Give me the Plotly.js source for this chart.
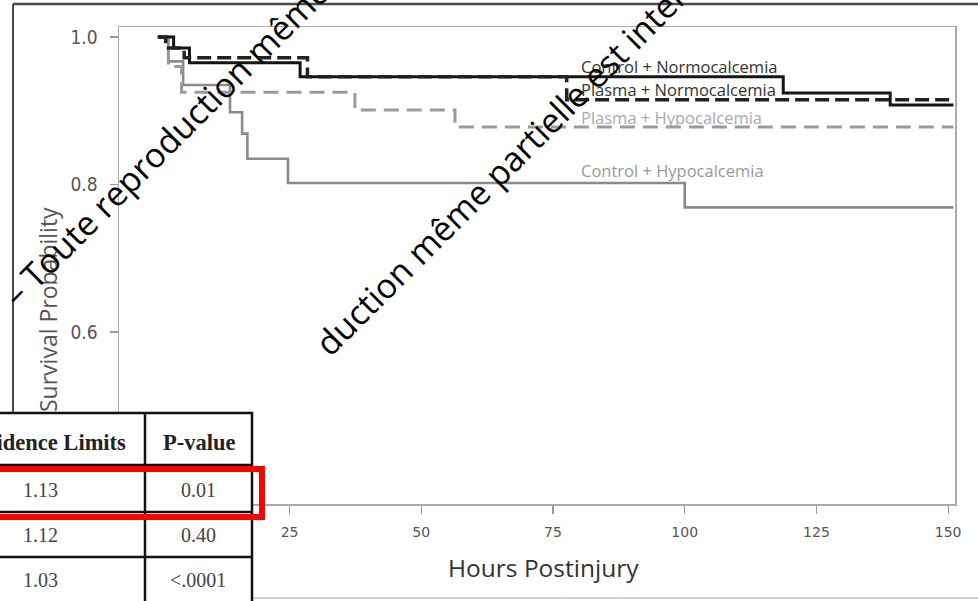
<!DOCTYPE html>
<html>
<head>
<meta charset="utf-8">
<script src="https://cdn.plot.ly/plotly-3.0.1.min.js"></script>
<style>html,body{margin:0;padding:0;background:#fff;overflow:hidden}</style>
</head>
<body>
<div id="chart" style="width:978px;height:601px"></div>
<script>
// ---- Data ----
const seriesNames = ["Control + Normocalcemia", "Plasma + Normocalcemia", "Plasma + Hypocalcemia", "Control + Hypocalcemia"];

const hoursCtrlNormo = [0, 3, 6, 27, 118.7, 139, 151];
const survCtrlNormo  = [1.0, 0.985, 0.965, 0.946, 0.924, 0.908, 0.908];

const hoursPlasmaNormo = [0, 1.5, 5, 28.4, 77.6, 151];
const survPlasmaNormo  = [1.0, 0.985, 0.972, 0.946, 0.915, 0.915];

const hoursPlasmaHypo = [0, 2, 4.5, 37.4, 56.4, 151];
const survPlasmaHypo  = [1.0, 0.96, 0.925, 0.901, 0.878, 0.878];

const hoursCtrlHypo = [0, 2, 4.8, 13.7, 16, 17, 24.7, 100, 151];
const survCtrlHypo  = [1.0, 0.967, 0.935, 0.898, 0.869, 0.835, 0.802, 0.769, 0.769];

const xTickVals = [25, 50, 75, 100, 125, 150];
const yTickVals = [0.6, 0.8, 1.0];
const yTickText = ["0.6", "0.8", "1.0"];

const xTitle = "Hours Postinjury";
const yTitle = "Survival Probability";

// table fragment in the lower-left corner
const tableHeaders = ["Confidence Limits", "P-value"];
const upperLimits = ["1.13", "1.12", "1.03"];
const pValues = ["0.01", "0.40", "<.0001"];

// watermark
const watermarks = ["– Toute reproduction même partielle est interdite", "duction même partielle est interdite"];

// ---- Helpers: page pixel -> paper fraction ----
const W = 978, H = 601;
const px = x => x / W;
const py = y => 1 - y / H;

const traces = [
  {x: hoursCtrlHypo, y: survCtrlHypo, name: seriesNames[3], mode: "lines",
   line: {shape: "hv", color: "#8a8a8a", width: 2.6}},
  {x: hoursPlasmaHypo, y: survPlasmaHypo, name: seriesNames[2], mode: "lines",
   line: {shape: "hv", color: "#9a9a9a", width: 3, dash: "15px,8px"}},
  {x: hoursCtrlNormo, y: survCtrlNormo, name: seriesNames[0], mode: "lines",
   line: {shape: "hv", color: "#151515", width: 3}},
  {x: hoursPlasmaNormo, y: survPlasmaNormo, name: seriesNames[1], mode: "lines",
   line: {shape: "hv", color: "#222222", width: 3.5, dash: "14px,6px"}}
];

const shapes = [];
const line = (x0, y0, x1, y1, color, width) => shapes.push({type: "line", xref: "paper", yref: "paper",
  x0: px(x0), y0: py(y0), x1: px(x1), y1: py(y1), line: {color: color, width: width}, layer: "above"});

// document borders
line(13, 4, 978, 4, "#4a4a4a", 2.5);
line(13, 4, 13, 413, "#4a4a4a", 2);
line(13, 598, 978, 598, "#c4c4c4", 1.5);

// table
shapes.push({type: "rect", xref: "paper", yref: "paper", x0: px(-10), y0: py(413), x1: px(252), y1: py(610),
  fillcolor: "#ffffff", line: {color: "#111", width: 2.5}, layer: "above"});
line(145, 413, 145, 610, "#111", 2.5);
line(-10, 465, 252, 465, "#111", 2.5);
line(-10, 512, 252, 512, "#111", 2.5);
line(-10, 557, 252, 557, "#111", 2.5);
// red highlight box
shapes.push({type: "rect", xref: "paper", yref: "paper", x0: px(-20), y0: py(469), x1: px(262), y1: py(517),
  fillcolor: "rgba(0,0,0,0)", line: {color: "#ff0000", width: 6}, layer: "above"});

const annotations = [];
const ann = (text, x, y, opts) => annotations.push(Object.assign({text: text, xref: "paper", yref: "paper",
  x: px(x), y: py(y), showarrow: false, xanchor: "center", yanchor: "middle"}, opts));

const labFont = (c) => ({family: "Open Sans, sans-serif", size: 16.5, color: c});
ann(seriesNames[0], 579, 66, {xanchor: "left", font: labFont("#333")});
ann(seriesNames[1], 579, 90, {xanchor: "left", font: labFont("#333")});
ann(seriesNames[2], 579, 117, {xanchor: "left", font: labFont("#aaa")});
ann(seriesNames[3], 579, 171, {xanchor: "left", font: labFont("#999")});

ann(xTitle, 543, 567, {font: {family: "Open Sans, sans-serif", size: 24.5, color: "#333"}});
ann(yTitle, 48, 310, {textangle: -90, font: {family: "Open Sans, sans-serif", size: 23, color: "#555"}});

const serifB = {family: "Liberation Serif, Times New Roman, serif", size: 22.5, color: "#222"};
const serif = {family: "Liberation Serif, Times New Roman, serif", size: 20, color: "#444"};
ann("<b>" + tableHeaders[0] + "</b>", 37, 442, {font: serifB});
ann("<b>" + tableHeaders[1] + "</b>", 199, 442, {font: serifB});
const rowY = [490, 535, 580];
for (let i = 0; i < 3; i++) {
  ann(upperLimits[i], 40, rowY[i], {font: serif});
  ann(pValues[i].replace("<", "&lt;"), 198, rowY[i], {font: serif});
}

const wmFont = {family: "Open Sans, sans-serif", size: 34, color: "#000"};
ann(watermarks[0], 285, 23, {textangle: -45, font: wmFont});
ann(watermarks[1], 522, 148, {textangle: -45, font: wmFont});

const layout = {
  width: W, height: H,
  margin: {l: 0, r: 0, t: 0, b: 0},
  paper_bgcolor: "#ffffff", plot_bgcolor: "#ffffff",
  showlegend: false,
  xaxis: {domain: [px(119), px(955)], range: [-7.37, 151.3], tickvals: xTickVals,
    ticks: "outside", ticklen: 8, tickcolor: "#999", tickwidth: 1.2, ticklabelstandoff: 7,
    tickfont: {family: "DejaVu Sans, sans-serif", size: 14, color: "#555"},
    showline: true, mirror: true, linecolor: "#aaa", linewidth: 1.5, showgrid: false, zeroline: false},
  yaxis: {domain: [py(504), py(27)], range: [0.3668, 1.0136], tickvals: yTickVals, ticktext: yTickText,
    ticks: "outside", ticklen: 8, tickcolor: "#999", tickwidth: 1.2, ticklabelstandoff: 8,
    tickfont: {family: "Liberation Sans Narrow, DejaVu Sans Condensed, Arial Narrow, sans-serif", size: 19, color: "#555"},
    showline: true, mirror: true, linecolor: "#aaa", linewidth: 1.5, showgrid: false, zeroline: false},
  shapes: shapes,
  annotations: annotations
};

Plotly.newPlot("chart", traces, layout, {staticPlot: true, displayModeBar: false});
</script>
</body>
</html>
